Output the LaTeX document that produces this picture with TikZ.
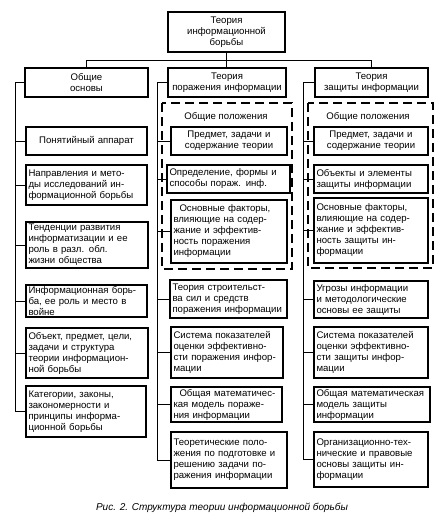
\documentclass[tikz,border=0pt]{standalone}
\usepackage{fontspec}
\setmainfont{Liberation Sans}
\newcommand\boxfont{\fontsize{9.6}{11}\selectfont}
\def\bxsep{2.5}
\tikzset{
  box/.style={draw, line width=1.1pt, inner xsep=\bxsep pt, inner ysep=0pt, align=left, font=\boxfont},
  conn/.style={line width=1pt},
  dashbox/.style={line width=1.2pt, dash pattern=on 9pt off 5pt},
  grouplabel/.style={font=\boxfont, inner sep=1pt},
  captionstyle/.style={font=\fontsize{10}{12}\selectfont\itshape, inner sep=0pt}
}
\newcommand\mkbox[7][]{%
  \pgfmathsetmacro\bh{#6-#4}%
  \pgfmathsetmacro\bcx{(#3+#5)/2}%
  \pgfmathsetmacro\bcy{(#4+#6)/2}%
  \pgfmathsetmacro\tw{#5-#3-2*\bxsep}%
  \node[box,minimum height=\bh pt,text width=\tw pt,#1] (#2) at (\bcx,\bcy) {#7};}
\begin{document}
\begin{tikzpicture}[x=1pt,y=-1pt]
\useasboundingbox (0,0) rectangle (447,525);
% top
\mkbox[align=center]{top}{168}{12}{285}{52}{Теория\\информационной\\борьбы}
\mkbox[align=center]{A}{25}{68}{148}{97}{Общие\\основы}
\mkbox[align=center]{B}{168}{68}{286}{97}{Теория\\поражения информации}
\mkbox[align=center]{C}{315}{68}{428}{97}{Теория\\защиты информации}
% left column
\mkbox[align=center]{L1}{26}{127}{147}{155}{Понятийный аппарат}
\mkbox{L2}{26}{165}{147}{205}{Направления и мето-\\ды исследований ин-\\формационной борьбы}
\mkbox{L3}{26}{222}{148}{268}{Тенденции развития\\информатизации и ее\\роль в разл. обл.\\жизни общества}
\mkbox{L4}{26}{285}{147}{317}{Информационная борь-\\ба, ее роль и место в\\войне}
\mkbox{L5}{26}{328}{148}{378}{Объект, предмет, цели,\\задачи и структура\\теории информацион-\\ной борьбы}
\mkbox{L6}{26}{386}{146}{437}{Категории, законы,\\закономерности и\\принципы информа-\\ционной борьбы}
% middle column
\draw[dashbox] (162,103) rectangle (292,269);
\node[grouplabel] (gm) at (226,117) {Общие положения};
\mkbox[align=center]{M1}{171}{127}{287}{155}{Предмет, задачи и\\содержание теории}
\mkbox{M2}{167}{165}{290}{193}{Определение, формы и\\способы пораж. инф.}
\mkbox{M3}{171}{200}{287}{263}{\hspace*{6pt}Основные факторы,\\влияющие на содер-\\жание и эффектив-\\ность поражения\\информации}
\mkbox{M4}{170}{280}{287}{318}{Теория строительст-\\ва сил и средств\\поражения информации}
\mkbox{M5}{171}{327}{283}{378}{Система показателей\\оценки эффективно-\\сти поражения инфор-\\мации}
\mkbox{M6}{171}{387}{282}{422}{\hspace*{6pt}Общая математичес-\\кая модель пораже-\\ния информации}
\mkbox{M7}{171}{432}{287}{488}{Теоретические поло-\\жения по подготовке и\\решению задачи по-\\ражения информации}
% right column
\draw[dashbox] (308,103) rectangle (433,268);
\node[grouplabel] (gr) at (368,117) {Общие положения};
\mkbox[align=center]{R1}{314}{127}{428}{155}{Предмет, задачи и\\содержание теории}
\mkbox{R2}{314}{165}{428}{193}{Объекты и элементы\\защиты информации}
\mkbox{R3}{314}{198}{428}{263}{Основные факторы,\\влияющие на содер-\\жание и эффектив-\\ность защиты ин-\\формации}
\mkbox{R4}{314}{281}{428}{318}{Угрозы информации\\и методологические\\основы ее защиты}
\mkbox{R5}{314}{327}{428}{378}{Система показателей\\оценки эффективно-\\сти защиты инфор-\\мации}
\mkbox{R6}{314}{387}{430}{422}{Общая математическая\\модель защиты\\информации}
\mkbox{R7}{314}{432}{428}{487}{Организационно-тех-\\нические и правовые\\основы защиты ин-\\формации}
% caption
\node[captionstyle] (caption) at (222,508) {Рис. 2. Структура теории информационной борьбы};
% connectors
\coordinate (bus) at (0,60);
\coordinate (lr) at (15,0);
\coordinate (mr) at (157,0);
\coordinate (rr) at (303,0);
\draw[conn] (top.south) -- (top.south |- B.north);
\draw[conn] (A.north) -- (A.north |- bus) -- (C.north |- bus) -- (C.north);
\draw[conn] (A.west) -| (L6.west -| lr) -- (L6.west);
\draw[conn] (B.west) -| (M7.west -| mr) -- (M7.west);
\draw[conn] (C.west) -| (R7.west -| rr) -- (R7.west);
\foreach \n in {L1,L2,L3,L4,L5} \draw[conn] (\n.west -| lr) -- (\n.west);
\foreach \n in {M1,M2,M3,M4,M5,M6} \draw[conn] (\n.west -| mr) -- (\n.west);
\foreach \n in {R1,R2,R3,R4,R5,R6} \draw[conn] (\n.west -| rr) -- (\n.west);
\end{tikzpicture}
\end{document}
